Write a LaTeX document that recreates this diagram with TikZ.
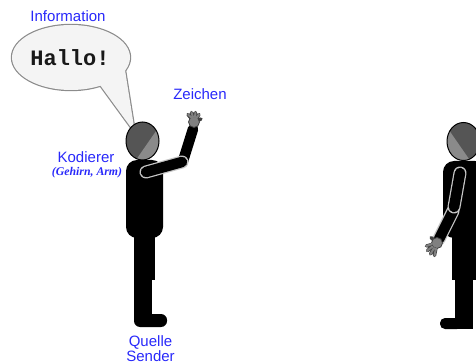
\documentclass[tikz,border=0pt]{standalone}
\usepackage{fontspec}
\setmainfont{Liberation Sans}
\newfontfamily\monofont{Liberation Mono}
\newfontfamily\seriffont{Liberation Serif}
\definecolor{labelblue}{RGB}{40,40,250}
\definecolor{headdark}{RGB}{85,85,85}
\definecolor{headlight}{RGB}{138,138,138}
\definecolor{handgrey}{RGB}{128,128,128}
\definecolor{bubblefill}{RGB}{244,244,244}
\definecolor{bubbleline}{RGB}{140,140,140}
\tikzset{
  label/.style={text=labelblue, font=\fontsize{15}{15}\selectfont, inner sep=0pt},
  armline/.style={line width=13pt, draw=gray!45, line cap=round},
  armcore/.style={line width=10.5pt, draw=black, line cap=round},
  finger/.style={line width=3.4pt, draw=black!75, line cap=round},
  fingercore/.style={line width=2pt, draw=handgrey, line cap=round},
  headline/.style={draw=black, line width=1pt},
}
\begin{document}
\begin{tikzpicture}[x=1pt, y=-1pt]
\useasboundingbox (0,0) rectangle (476,363);

% ---------- speech bubble ----------
\coordinate (tailA) at (100,85);
\coordinate (tailB) at (125,70);
\coordinate (tailTip) at (135,133);
\draw[bubbleline, line width=2.4pt] (71,57.5) ellipse [x radius=59, y radius=32.5];
\draw[bubbleline, line width=2.4pt, line join=round] (tailA) -- (tailTip) -- (tailB);
\fill[bubblefill] (71,57.5) ellipse [x radius=59, y radius=32.5];
\fill[bubblefill] (tailA) -- (tailTip) -- (tailB) -- cycle;
\node[inner sep=0pt, font=\monofont\bfseries\fontsize{22}{22}\selectfont, text=black!90] (hallo) at (70,58) {Hallo!};

% ---------- sender (left figure) ----------
% body and legs
\fill[black, rounded corners=11pt] (126,160) rectangle (163,238);
\fill[black] (134,230) rectangle (155,280);
\fill[black] (134,278) rectangle (152,320);
\fill[black, rounded corners=6pt] (134,314) rectangle (167,327);
% raised forearm and hand
\draw[armcore] (183,161) -- (193,129);
\draw[finger] (194,122) -- (188,114.5) (194,122) -- (191.5,112.5) (194,122) -- (195.5,112.5) (194,122) -- (199,114.5) (194,122) -- (201,119);
\fill[handgrey, draw=black!75, line width=0.8pt] (194,122) circle (5.5);
\draw[fingercore] (192,118) -- (188,114.5) (193,117) -- (191.5,112.5) (195,117) -- (195.5,112.5) (196.5,118) -- (199,114.5);
% upper arm
\draw[armline] (146,172) -- (182,162);
\draw[armcore] (146,172) -- (182,162);
% head
\begin{scope}
  \clip (142.5,141) ellipse [x radius=16.5, y radius=19];
  \fill[headdark] (142.5,141) ellipse [x radius=16.5, y radius=19];
  \fill[headlight] (163,121) -- (129,170) -- (170,175) -- (175,121) -- cycle;
\end{scope}
\draw[headline] (142.5,141) ellipse [x radius=16.5, y radius=19];

% ---------- receiver (right figure) ----------
\fill[black, rounded corners=11pt] (443,161) rectangle (486,238);
\fill[black] (452,230) rectangle (478,280);
\fill[black] (455,278) rectangle (473,329);
\fill[black, rounded corners=5pt] (440,318) rectangle (462,329);
% lowered forearm and hand
\draw[armline] (453,211) -- (439,239);
\draw[armcore] (453,211) -- (439,239);
\draw[finger] (437,243) -- (426.5,246) (437,243) -- (427.5,250.5) (437,243) -- (430.5,254) (437,243) -- (434.5,255.5) (437,243) -- (431,237.5);
\fill[handgrey, draw=black!75, line width=0.8pt] (437,243) circle (5.5);
\draw[fingercore] (432,244) -- (426.5,246) (432.5,246.5) -- (427.5,250.5) (434,248) -- (430.5,254) (436,248.5) -- (434.5,255.5);
% upper arm
\draw[armline] (460,173) -- (454,207);
\draw[armcore] (460,173) -- (454,207);
% head
\begin{scope}
  \clip (463.5,141.5) ellipse [x radius=16.5, y radius=19];
  \fill[headdark] (463.5,141.5) ellipse [x radius=16.5, y radius=19];
  \fill[headlight] (443,121.5) -- (477,170.5) -- (440,176) -- (435,121) -- cycle;
\end{scope}
\draw[headline] (463.5,141.5) ellipse [x radius=16.5, y radius=19];

% ---------- labels ----------
\node[label] (information) at (68,16) {Information};
\node[label] (zeichen) at (200,94) {Zeichen};
\node[label] (kodierer) at (86,157) {Kodierer};
\node[inner sep=0pt, text=labelblue, font=\seriffont\bfseries\itshape\fontsize{11.8}{11.8}\selectfont] (organ) at (87,172.5) {(Gehirn, Arm)};
\node[label, align=center, font=\fontsize{15}{13.5}\selectfont] (quelle) at (150.5,348.5) {Quelle\\Sender};
\end{tikzpicture}
\end{document}
